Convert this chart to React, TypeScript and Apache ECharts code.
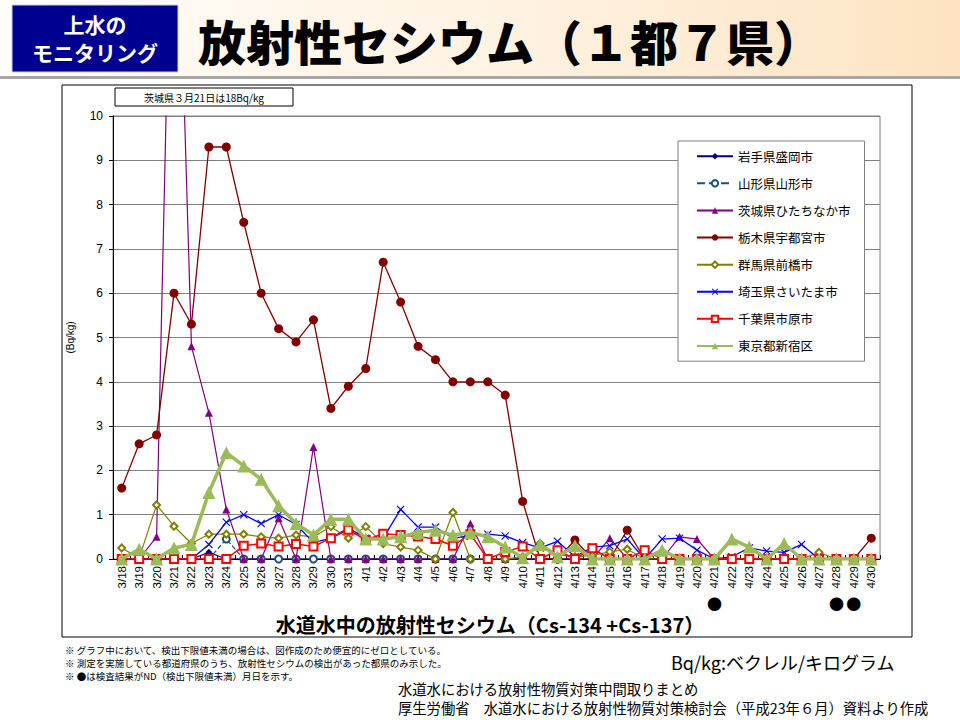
import React, { useEffect, useRef } from "react";
import * as echarts from "echarts";

const dates = [
  "3/18", "3/19", "3/20", "3/21", "3/22", "3/23", "3/24", "3/25", "3/26", "3/27", "3/28", "3/29", "3/30", "3/31",
  "4/1", "4/2", "4/3", "4/4", "4/5", "4/6", "4/7", "4/8", "4/9", "4/10", "4/11", "4/12", "4/13", "4/14", "4/15",
  "4/16", "4/17", "4/18", "4/19", "4/20", "4/21", "4/22", "4/23", "4/24", "4/25", "4/26", "4/27", "4/28", "4/29", "4/30",
];

// 3/18 ... 4/30 (44 days)
const iwate = [
  0, 0, 0, 0, 0, 0.15, 0, 0, 0, 0, 0, 0, 0, 0,
  0, 0, 0, 0, 0, 0, 0, 0, 0, 0, 0, 0, 0, 0, 0,
  0, 0, 0, 0, 0, 0, 0, 0, 0, 0, 0, 0, 0, 0, 0,
];
const yamagata = [
  0, 0, 0, 0, 0, 0, 0.45, 0, 0, 0, 0, 0, 0, 0,
  0, 0, 0, 0, 0, 0, 0, 0, 0, 0, 0, 0, 0, 0, 0,
  0, 0, 0, 0, 0, 0, 0, 0, 0, 0, 0, 0, 0, 0, 0,
];
const ibaraki = [
  0, 0, 0.5, 18, 4.8, 3.3, 1.12, 0, 0, 0.92, 0, 2.53, 0, 0,
  0, 0, 0, 0, 0, 0, 0.8, 0, 0, 0, 0, 0, 0, 0, 0.47,
  0, 0, 0, 0.5, 0.45, 0, 0, 0, 0, 0, 0, 0, 0, 0, 0,
];
const tochigi = [
  1.6, 2.6, 2.8, 6.0, 5.3, 9.3, 9.3, 7.6, 6.0, 5.2, 4.9, 5.4, 3.4, 3.9,
  4.3, 6.7, 5.8, 4.8, 4.5, 4.0, 4.0, 4.0, 3.7, 1.3, 0, 0, 0.43, 0, 0,
  0.65, 0, 0, 0, 0, 0, 0, 0, 0, 0, 0, 0, 0, 0, 0.47,
];
const gunma = [
  0.25, 0.02, 1.22, 0.74, 0.35, 0.56, 0.56, 0.56, 0.5, 0.47, 0.54, 0.5, 0.73, 0.47,
  0.73, 0.35, 0.27, 0.2, 0, 1.05, 0, 0, 0, 0.05, 0.35, 0.1, 0.05, 0.08, 0.16,
  0.22, 0, 0, 0, 0, 0, 0, 0, 0, 0, 0, 0.15, 0, 0, 0,
];
const saitama = [
  0, 0, 0, 0, 0, 0.33, 0.83, 1.0, 0.8, 1.0, 0.78, 0.37, 0.47, 0.7,
  0.47, 0.47, 1.12, 0.72, 0.72, 0.47, 0.52, 0.56, 0.52, 0.37, 0.25, 0.4, 0.05, 0.27, 0.3,
  0.45, 0, 0.45, 0.47, 0.2, 0, 0.05, 0.25, 0.18, 0.15, 0.33, 0, 0, 0, 0,
];
const chiba = [
  0, 0, 0, 0, 0, 0, 0, 0.3, 0.35, 0.28, 0.34, 0.28, 0.47, 0.66,
  0.43, 0.57, 0.54, 0.51, 0.45, 0.3, 0.56, 0, 0.16, 0.28, 0, 0.2, 0, 0.24, 0,
  0, 0.2, 0, 0, 0, 0, 0, 0, 0, 0, 0, 0, 0, 0, 0,
];
const tokyo = [
  0, 0.22, 0, 0.25, 0.33, 1.5, 2.4, 2.1, 1.8, 1.2, 0.8, 0.54, 0.9, 0.9,
  0.45, 0.45, 0.5, 0.6, 0.65, 0.54, 0.6, 0.5, 0.27, 0.03, 0.33, 0.05, 0.3, 0, 0,
  0, 0, 0.2, 0, 0, 0, 0.45, 0.27, 0, 0.35, 0, 0, 0, 0, 0,
];

const ndDates = ["4/21", "4/28", "4/29"];

const seriesNames = [
  "岩手県盛岡市",
  "山形県山形市",
  "茨城県ひたちなか市",
  "栃木県宇都宮市",
  "群馬県前橋市",
  "埼玉県さいたま市",
  "千葉県市原市",
  "東京都新宿区",
];

const yTicks = [0, 1, 2, 3, 4, 5, 6, 7, 8, 9, 10];

const footnotes = [
  "※ グラフ中において、検出下限値未満の場合は、図作成のため便宜的にゼロとしている。",
  "※ 測定を実施している都道府県のうち、放射性セシウムの検出があった都県のみ示した。",
  "※ ●は検査結果がND（検出下限値未満）月日を示す。",
];

const JP = "'Noto Sans CJK JP', 'Noto Sans', sans-serif";
const NUM = "'Liberation Sans', 'Noto Sans CJK JP', sans-serif";

const crossPath = "path://M1,0 L5,4 L9,0 L10,1 L6,5 L10,9 L9,10 L5,6 L1,10 L0,9 L4,5 L0,1 Z";

function buildSeries() {
  const defs = [
    { data: iwate, color: "#000080", symbol: "diamond", size: 7, width: 1.2, type: "solid" },
    { data: yamagata, color: "#1f4e79", symbol: "emptyCircle", size: 7, width: 1.2, type: "dashed" },
    { data: ibaraki, color: "#800080", symbol: "triangle", size: 8, width: 1.2, type: "solid" },
    { data: tochigi, color: "#800000", symbol: "circle", size: 9, width: 1.3, type: "solid" },
    { data: gunma, color: "#808000", symbol: "emptyDiamond", size: 7, width: 1.2, type: "solid" },
    { data: saitama, color: "#0000ff", symbol: crossPath, size: 8, width: 1.3, type: "solid" },
    { data: chiba, color: "#ff0000", symbol: "emptyRect", size: 8, width: 1.5, type: "solid" },
    { data: tokyo, color: "#9bbb59", symbol: "triangle", size: 13, width: 3.5, type: "solid" },
  ];
  return defs.map((d, i) => ({
    name: seriesNames[i],
    type: "line",
    data: d.data,
    symbol: d.symbol,
    symbolSize: d.size,
    showAllSymbol: true,
    clip: true,
    z: 3 + i,
    itemStyle: { color: d.color, borderWidth: 1.2 },
    lineStyle: { color: d.color, width: d.width, type: d.type },
  }));
}

function textEl(id: string, x: number, y: number, text: string, size: number, extra: any = {}) {
  return {
    type: "text",
    id,
    x,
    y,
    silent: true,
    style: {
      text,
      fill: "#000",
      fontSize: size,
      fontFamily: JP,
      textAlign: "left",
      textVerticalAlign: "middle",
      ...extra,
    },
  };
}

export default function App() {
  const ref = useRef<HTMLDivElement>(null);

  useEffect(() => {
    if (!ref.current) return;
    const chart = echarts.init(ref.current, null, { renderer: "svg" });
    const option: any = {
      animation: false,
      backgroundColor: "#ffffff",
      grid: {
        left: 113,
        right: 80,
        top: 116,
        bottom: 161,
        show: true,
        borderColor: "#808080",
        borderWidth: 1,
        backgroundColor: "transparent",
      },
      legend: {
        data: seriesNames,
        orient: "vertical",
        left: 678,
        top: 141,
        itemWidth: 36,
        itemHeight: 8,
        itemGap: 14.6,
        padding: [9, 14, 9, 18],
        backgroundColor: "#ffffff",
        borderColor: "#808080",
        borderWidth: 1,
        textStyle: { fontSize: 12.5, color: "#000", fontFamily: JP },
      },
      xAxis: {
        type: "category",
        data: dates,
        boundaryGap: true,
        axisLine: { lineStyle: { color: "#000", width: 1 } },
        axisTick: { show: true, interval: 0, inside: true, length: 4, lineStyle: { color: "#000" } },
        axisLabel: {
          interval: 0,
          rotate: 90,
          fontSize: 11.5,
          margin: 7,
          color: "#000",
          fontFamily: NUM,
        },
        splitLine: { show: false },
      },
      yAxis: {
        type: "value",
        min: yTicks[0],
        max: yTicks[yTicks.length - 1],
        interval: 1,
        name: "(Bq/kg)",
        nameLocation: "middle",
        nameGap: 38,
        nameTextStyle: { fontSize: 10, color: "#000", fontFamily: NUM },
        axisLine: { show: true, lineStyle: { color: "#000", width: 1 } },
        axisTick: { show: true, length: 4, lineStyle: { color: "#000" } },
        axisLabel: { fontSize: 12, color: "#000", margin: 10, fontFamily: NUM },
        splitLine: { show: true, lineStyle: { color: "#808080", width: 1 } },
      },
      series: buildSeries(),
    };
    chart.setOption(option);

    const ndGraphics = ndDates.map((d, i) => {
      const px = chart.convertToPixel({ xAxisIndex: 0 }, d) as number;
      return textEl("nd" + i, px, 603, "●", 15, { textAlign: "center" });
    });

    const graphics: any[] = [
      {
        type: "rect",
        id: "band",
        shape: { x: 0, y: 0, width: 960, height: 77 },
        silent: true,
        style: {
          fill: {
            type: "linear",
            x: 0,
            y: 0,
            x2: 1,
            y2: 0,
            colorStops: [
              { offset: 0, color: "#fffdf9" },
              { offset: 0.5, color: "#fff3e3" },
              { offset: 1, color: "#fde3c2" },
            ],
          },
        },
      },
      {
        type: "rect",
        id: "bandLine",
        shape: { x: 0, y: 76, width: 960, height: 3 },
        silent: true,
        style: { fill: "#a6a6a6" },
      },
      {
        type: "rect",
        id: "navyBox",
        shape: { x: 12, y: 5, width: 166, height: 67 },
        silent: true,
        style: { fill: "#000090", stroke: "#d0d0e8", lineWidth: 1 },
      },
      textEl("boxT1", 95, 24, "上水の", 21, { fill: "#fff", fontWeight: "bold", textAlign: "center" }),
      textEl("boxT2", 95, 52, "モニタリング", 21, { fill: "#fff", fontWeight: "bold", textAlign: "center" }),
      textEl("mainTitle", 198, 40, "放射性セシウム（１都７県）", 48, { fontWeight: 900 }),
      {
        type: "rect",
        id: "frame",
        shape: { x: 62, y: 85, width: 850, height: 552 },
        silent: true,
        style: { fill: "none", stroke: "#000", lineWidth: 1 },
      },
      {
        type: "rect",
        id: "noteBox",
        shape: { x: 115, y: 88, width: 178, height: 18 },
        silent: true,
        style: { fill: "#fff", stroke: "#000", lineWidth: 1 },
      },
      textEl("noteText", 204, 97, "茨城県３月21日は18Bq/kg", 10, { textAlign: "center" }),
      textEl("xTitle", 490, 624, "水道水中の放射性セシウム（Cs-134 +Cs-137）", 20, {
        fontWeight: "bold",
        textAlign: "center",
      }),
      ...footnotes.map((t, i) => textEl("fn" + i, 65, 650 + i * 13, t, 9.5)),
      textEl("unit", 671, 662, "Bq/kg:ベクレル/キログラム", 18),
      textEl("src1", 398, 688, "水道水における放射性物質対策中間取りまとめ", 14.3),
      textEl("src2", 398, 707, "厚生労働省　水道水における放射性物質対策検討会（平成23年６月）資料より作成", 14.3),
      ...ndGraphics,
    ];
    chart.setOption({ graphic: graphics });

    return () => {
      chart.dispose();
    };
  }, []);

  return (
    <div
      ref={ref}
      style={{ position: "absolute", left: 0, top: 0, width: 960, height: 720 }}
    />
  );
}
